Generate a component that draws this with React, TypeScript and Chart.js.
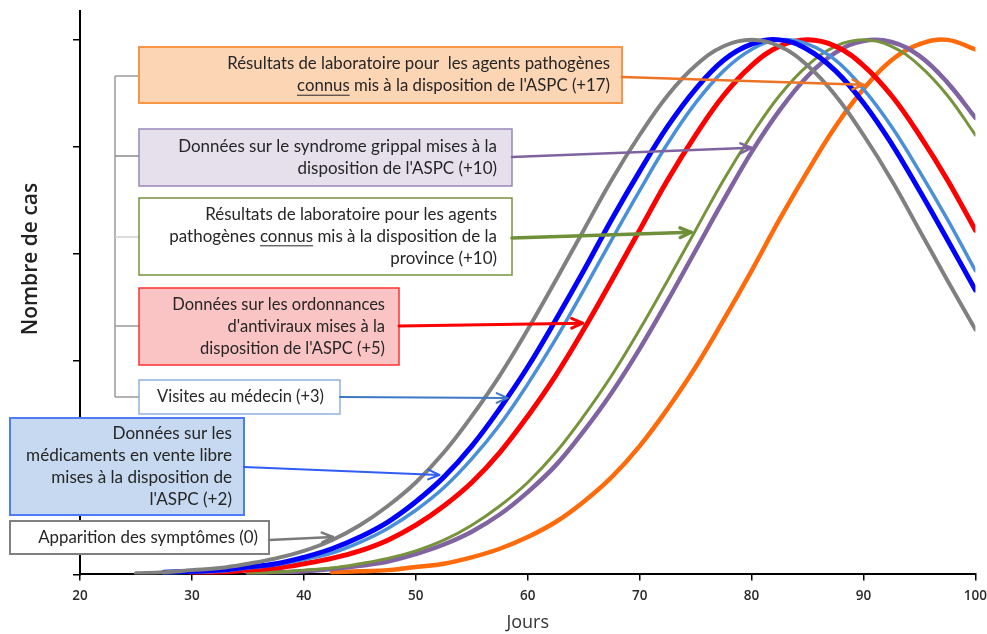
import React, { useEffect, useRef } from "react";
import { Chart, registerables } from "chart.js";

Chart.register(...registerables);

// ---- Data ----
const days = [25, 27.5, 30, 32.5, 35, 37.5, 40, 42.5, 45, 47.5, 50, 52.5, 55, 57.5, 60, 62.5, 65, 67.5, 70, 72.5, 75, 77.5, 80, 82.5, 85, 87.5, 90, 92.5, 95, 97.5, 100];

const apparitionSymptomes = [0.01, 0.02, 0.04, 0.06, 0.10, 0.15, 0.22, 0.32, 0.46, 0.64, 0.86, 1.14, 1.48, 1.86, 2.29, 2.75, 3.22, 3.69, 4.11, 4.48, 4.76, 4.94, 5.00, 4.94, 4.76, 4.48, 4.11, 3.69, 3.22, 2.75, 2.29];
const medicamentsVenteLibre = [null, 0.02, 0.03, 0.04, 0.07, 0.10, 0.16, 0.24, 0.35, 0.49, 0.68, 0.91, 1.20, 1.55, 1.94, 2.38, 2.84, 3.32, 3.77, 4.19, 4.54, 4.81, 4.96, 5.00, 4.91, 4.71, 4.41, 4.03, 3.59, 3.13, 2.66];
const visitesMedecin = [null, 0.01, 0.02, 0.03, 0.06, 0.09, 0.14, 0.20, 0.30, 0.43, 0.60, 0.81, 1.08, 1.40, 1.78, 2.20, 2.66, 3.13, 3.59, 4.03, 4.41, 4.71, 4.91, 5.00, 4.96, 4.81, 4.54, 4.19, 3.77, 3.32, 2.84];
const ordonnancesAntiviraux = [null, null, 0.01, 0.02, 0.04, 0.06, 0.10, 0.15, 0.22, 0.32, 0.46, 0.64, 0.86, 1.14, 1.48, 1.86, 2.29, 2.75, 3.22, 3.69, 4.11, 4.48, 4.76, 4.94, 5.00, 4.94, 4.76, 4.48, 4.11, 3.69, 3.22];
const laboProvince = [null, null, null, null, 0.01, 0.02, 0.04, 0.06, 0.10, 0.15, 0.22, 0.32, 0.46, 0.64, 0.86, 1.14, 1.48, 1.86, 2.29, 2.75, 3.22, 3.69, 4.11, 4.48, 4.76, 4.94, 5.00, 4.94, 4.76, 4.48, 4.11];
const syndromeGrippal = [null, null, null, null, 0.01, 0.02, 0.03, 0.05, 0.08, 0.12, 0.19, 0.28, 0.40, 0.56, 0.77, 1.02, 1.34, 1.70, 2.11, 2.56, 3.03, 3.50, 3.95, 4.34, 4.66, 4.88, 4.99, 4.98, 4.85, 4.60, 4.27];
const laboASPC = [null, null, null, null, null, null, null, 0.02, 0.03, 0.04, 0.07, 0.10, 0.16, 0.24, 0.35, 0.49, 0.68, 0.91, 1.20, 1.55, 1.94, 2.38, 2.84, 3.32, 3.77, 4.19, 4.54, 4.81, 4.96, 5.00, 4.91];

const xMin = 20;
const xMax = 100;
const xStep = 10;
const yMax = 5.27;

// arrow tips in data coordinates [day, cases]
const tipSymptomes = [42.6, 0.35];
const tipMedicaments = [52.1, 0.93];
const tipVisites = [58.2, 1.65];
const tipOrdonnances = [64.9, 2.35];
const tipLaboProvince = [74.6, 3.2];
const tipSyndrome = [80.0, 3.99];
const tipLaboASPC = [90.0, 4.58];

// ---- Styles / layout of annotations ----
type Box = {
  lines: string[]; x: number; y: number; w: number; h: number;
  fill: string; stroke: string; sw: number; padR: number; fit: [number, number];
  arrowFrom: [number, number]; tip: number[]; arrowColor: string; arrowW: number;
};

const boxes: Box[] = [
  {
    lines: ["Résultats de laboratoire pour  les agents pathogènes", "_connus_ mis à la disposition de l'ASPC (+17)"],
    x: 139, y: 47, w: 483, h: 56, fill: "#fcd5b5", stroke: "#f79646", sw: 2, padR: 12, fit: [0, 383],
    arrowFrom: [622, 77], tip: tipLaboASPC, arrowColor: "#ec7424", arrowW: 2.5,
  },
  {
    lines: ["Données sur le syndrome grippal mises à la", "disposition de l'ASPC (+10)"],
    x: 139, y: 129, w: 373, h: 57, fill: "#e5e0ec", stroke: "#9b86bb", sw: 1.5, padR: 15, fit: [0, 319],
    arrowFrom: [512, 157], tip: tipSyndrome, arrowColor: "#7f63a1", arrowW: 2.5,
  },
  {
    lines: ["Résultats de laboratoire pour les agents", "pathogènes _connus_ mis à la disposition de la", "province (+10)"],
    x: 139, y: 198, w: 373, h: 77, fill: "#ffffff", stroke: "#77933c", sw: 1.5, padR: 15, fit: [1, 328],
    arrowFrom: [512, 238], tip: tipLaboProvince, arrowColor: "#6f8f3a", arrowW: 3.5,
  },
  {
    lines: ["Données sur les ordonnances", "d'antiviraux mises à la", "disposition de l'ASPC (+5)"],
    x: 139, y: 288, w: 260, h: 77, fill: "#fbc4c4", stroke: "#ff3030", sw: 1.5, padR: 14, fit: [0, 213],
    arrowFrom: [399, 326], tip: tipOrdonnances, arrowColor: "#ff0000", arrowW: 3,
  },
  {
    lines: ["Visites au médecin (+3)"],
    x: 139, y: 380, w: 201, h: 34, fill: "#ffffff", stroke: "#8fb2de", sw: 1.5, padR: 16, fit: [0, 167],
    arrowFrom: [340, 397], tip: tipVisites, arrowColor: "#3f78c4", arrowW: 2,
  },
  {
    lines: ["Données sur les", "médicaments en vente libre", "mises à la disposition de", "l'ASPC (+2)"],
    x: 10, y: 418, w: 234, h: 97, fill: "#c6d9f1", stroke: "#4d7cf5", sw: 2, padR: 12, fit: [1, 206],
    arrowFrom: [244, 467], tip: tipMedicaments, arrowColor: "#2f5df5", arrowW: 2,
  },
  {
    lines: ["Apparition des symptômes (0)"],
    x: 10, y: 521, w: 259, h: 33, fill: "#ffffff", stroke: "#808080", sw: 2, padR: 11, fit: [0, 220],
    arrowFrom: [269, 540], tip: tipSymptomes, arrowColor: "#7a7a7a", arrowW: 2.5,
  },
];

const bracketX = 115;
const bracketStubs = [
  { y: 76, color: "#9a9a9a", toX: 139 },
  { y: 156, color: "#8a8a8a", toX: 139 },
  { y: 237, color: "#cfcfcf", toX: 139 },
  { y: 326, color: "#9a9a9a", toX: 139 },
  { y: 397, color: "#9a9a9a", toX: 139 },
];

const TEXT_FONT = "Lato";
const LINE_GAP = 22;

function drawArrow(ctx: CanvasRenderingContext2D, x1: number, y1: number, x2: number, y2: number, color: string, w: number) {
  ctx.save();
  ctx.strokeStyle = color;
  ctx.lineWidth = w;
  ctx.lineCap = "round";
  ctx.lineJoin = "round";
  ctx.beginPath();
  ctx.moveTo(x1, y1);
  ctx.lineTo(x2, y2);
  ctx.stroke();
  const a = Math.atan2(y2 - y1, x2 - x1);
  const L = 12;
  const s = 0.42;
  ctx.beginPath();
  ctx.moveTo(x2 - L * Math.cos(a - s), y2 - L * Math.sin(a - s));
  ctx.lineTo(x2, y2);
  ctx.lineTo(x2 - L * Math.cos(a + s), y2 - L * Math.sin(a + s));
  ctx.stroke();
  ctx.restore();
}

function drawBoxText(ctx: CanvasRenderingContext2D, b: Box) {
  const strip = (t: string) => t.replace(/_/g, "");
  ctx.font = `15px ${TEXT_FONT}`;
  const mw = ctx.measureText(strip(b.lines[b.fit[0]])).width;
  const size = (15 * b.fit[1]) / mw;
  ctx.font = `${size}px ${TEXT_FONT}`;
  ctx.fillStyle = "#262626";
  ctx.textBaseline = "middle";
  ctx.textAlign = "left";
  const cy = b.y + b.h / 2;
  const n = b.lines.length;
  b.lines.forEach((line, i) => {
    const ly = cy + (i - (n - 1) / 2) * LINE_GAP;
    const parts = line.split("_");
    const total = ctx.measureText(strip(line)).width;
    let x = b.x + b.w - b.padR - total;
    parts.forEach((p, k) => {
      const pw = ctx.measureText(p).width;
      ctx.fillText(p, x, ly);
      if (k % 2 === 1) {
        ctx.save();
        ctx.strokeStyle = "#262626";
        ctx.lineWidth = 1;
        ctx.beginPath();
        ctx.moveTo(x, ly + size * 0.55);
        ctx.lineTo(x + pw, ly + size * 0.55);
        ctx.stroke();
        ctx.restore();
      }
      x += pw;
    });
  });
}

const annotationPlugin = {
  id: "annotations",
  afterDraw(chart: any) {
    const ctx: CanvasRenderingContext2D = chart.ctx;
    const xs = chart.scales.x;
    const ys = chart.scales.y;
    ctx.save();
    // bracket
    ctx.lineWidth = 1.5;
    ctx.strokeStyle = "#9a9a9a";
    ctx.beginPath();
    ctx.moveTo(bracketX, bracketStubs[0].y);
    ctx.lineTo(bracketX, bracketStubs[bracketStubs.length - 1].y);
    ctx.stroke();
    bracketStubs.forEach((s) => {
      ctx.strokeStyle = s.color;
      ctx.beginPath();
      ctx.moveTo(bracketX, s.y);
      ctx.lineTo(s.toX, s.y);
      ctx.stroke();
    });
    // boxes
    boxes.forEach((b) => {
      ctx.fillStyle = b.fill;
      ctx.fillRect(b.x, b.y, b.w, b.h);
      ctx.strokeStyle = b.stroke;
      ctx.lineWidth = b.sw;
      ctx.strokeRect(b.x, b.y, b.w, b.h);
      drawBoxText(ctx, b);
    });
    // arrows
    boxes.forEach((b) => {
      const tx = xs.getPixelForValue(b.tip[0]);
      const ty = ys.getPixelForValue(b.tip[1]);
      drawArrow(ctx, b.arrowFrom[0], b.arrowFrom[1], tx, ty, b.arrowColor, b.arrowW);
    });
    // y axis title
    ctx.save();
    ctx.translate(31, 259);
    ctx.rotate(-Math.PI / 2);
    ctx.font = `600 21px "Open Sans"`;
    ctx.fillStyle = "#222";
    ctx.textAlign = "center";
    ctx.textBaseline = "middle";
    ctx.fillText("Nombre de cas", 0, 0);
    ctx.restore();
    ctx.restore();
  },
};

const seriesDefs = [
  { label: "Apparition des symptômes (0)", data: apparitionSymptomes, color: "#808080", width: 4 },
  { label: "Médicaments en vente libre (+2)", data: medicamentsVenteLibre, color: "#0000ff", width: 5 },
  { label: "Visites au médecin (+3)", data: visitesMedecin, color: "#4a90d9", width: 3.5 },
  { label: "Ordonnances d'antiviraux (+5)", data: ordonnancesAntiviraux, color: "#ff0000", width: 5 },
  { label: "Laboratoire province (+10)", data: laboProvince, color: "#77933c", width: 3 },
  { label: "Syndrome grippal (+10)", data: syndromeGrippal, color: "#8064a2", width: 4.5 },
  { label: "Laboratoire ASPC (+17)", data: laboASPC, color: "#ff6a0a", width: 4.5 },
];

export default function App() {
  const ref = useRef<HTMLCanvasElement | null>(null);
  useEffect(() => {
    if (!ref.current) return;
    const chart = new Chart(ref.current, {
      type: "line",
      data: {
        datasets: seriesDefs.map((s) => ({
          label: s.label,
          data: days
            .map((d, i) => ({ x: d, y: s.data[i] as number | null }))
            .filter((p) => p.y !== null) as any,
          borderColor: s.color,
          backgroundColor: s.color,
          borderWidth: s.width,
          pointRadius: 0,
          tension: 0.4,
          fill: false,
          borderCapStyle: "round" as const,
        })),
      },
      options: {
        animation: false,
        responsive: false,
        events: [],
        layout: { padding: { left: 73, right: 0, top: 11, bottom: 0 } },
        plugins: { legend: { display: false }, tooltip: { enabled: false } },
        scales: {
          x: {
            type: "linear",
            min: xMin,
            max: xMax,
            ticks: { stepSize: xStep, padding: 0, color: "#2a2a2a", font: { family: "Open Sans", size: 13.5, weight: "600", lineHeight: 2.37 } },
            grid: { display: true, drawOnChartArea: false, drawTicks: true, tickLength: 6, color: "#000", lineWidth: 1.5 },
            border: { display: true, color: "#000", width: 2 },
            title: { display: true, text: "Jours", color: "#333", font: { family: "Open Sans", size: 18 }, padding: { top: 0, bottom: 0 } },
          },
          y: {
            type: "linear",
            min: 0,
            max: yMax,
            ticks: { display: false, stepSize: 1, includeBounds: false },
            afterBuildTicks: (axis: any) => {
              axis.ticks = axis.ticks.filter((t: any) => Number.isInteger(t.value));
            },
            grid: { display: true, drawOnChartArea: false, drawTicks: true, tickLength: 7, color: "#000", lineWidth: 1.5 },
            border: { display: true, color: "#000", width: 2 },
          },
        },
      },
      plugins: [annotationPlugin],
    });
    return () => chart.destroy();
  }, []);
  return (
    <div style={{ position: "fixed", left: 0, top: 0, width: 987, height: 634, background: "#fff" }}>
      <canvas ref={ref} width={987} height={634} style={{ width: 987, height: 634, display: "block" }} />
    </div>
  );
}
